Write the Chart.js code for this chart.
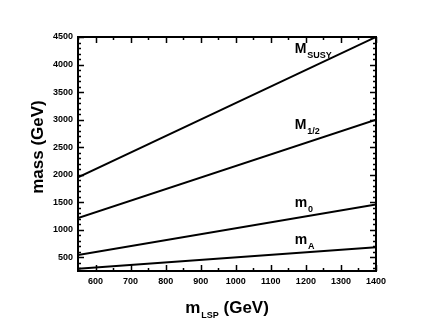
<!DOCTYPE html>
<html>
<head>
<meta charset="utf-8">
<script src="https://cdn.jsdelivr.net/npm/chart.js@4/dist/chart.umd.min.js"></script>
<style>
  html, body { margin: 0; padding: 0; background: #fff; }
</style>
</head>
<body>
<canvas id="massChart" width="437" height="327"></canvas>
<script>
// LSP mass (x) and the four mass curves
const mLSP = [550, 1400];
const mSUSY = [1950, 4500];
const mHalf = [1210, 3000];
const m0 = [540, 1460];
const mA = [290, 680];

const xTicks = [600, 700, 800, 900, 1000, 1100, 1200, 1300, 1400];
const yTicks = [500, 1000, 1500, 2000, 2500, 3000, 3500, 4000, 4500];

// curve labels: main letter, subscript, anchor in data units
const curveLabels = [
  { main: "M", sub: "SUSY", x: 1168, y: 4215 },
  { main: "M", sub: "1/2", x: 1168, y: 2835 },
  { main: "m", sub: "0", x: 1168, y: 1410 },
  { main: "m", sub: "A", x: 1168, y: 745 }
];

const BOLD = "'Liberation Sans', Arial, sans-serif";

function drawSub(ctx, x, y, main, sub, mainSize, subSize, drop) {
  ctx.font = "bold " + mainSize + "px " + BOLD;
  ctx.fillText(main, x, y);
  const w = ctx.measureText(main).width;
  ctx.font = "bold " + subSize + "px " + BOLD;
  ctx.fillText(sub, x + w + 1, y + drop);
  return w + 1 + ctx.measureText(sub).width;
}

const framePlugin = {
  id: "frame",
  afterDraw(chart) {
    const ctx = chart.ctx;
    const a = chart.chartArea;
    const xs = chart.scales.x, ys = chart.scales.y;
    ctx.save();
    ctx.strokeStyle = "#000";
    ctx.fillStyle = "#000";

    // ticks pointing inward on all four sides
    ctx.lineWidth = 1.5;
    ctx.beginPath();
    for (let v = 550; v <= 1400; v += 50) {
      const px = Math.round(xs.getPixelForValue(v)) + 0.5;
      const len = v % 100 === 0 ? 6 : 3;
      ctx.moveTo(px, a.bottom); ctx.lineTo(px, a.bottom - len);
      ctx.moveTo(px, a.top); ctx.lineTo(px, a.top + len);
    }
    for (let v = 300; v <= 4500; v += 100) {
      const py = Math.round(ys.getPixelForValue(v)) + 0.5;
      const len = v % 500 === 0 ? 6 : 3;
      ctx.moveTo(a.left, py); ctx.lineTo(a.left + len, py);
      ctx.moveTo(a.right, py); ctx.lineTo(a.right - len, py);
    }
    ctx.stroke();

    ctx.lineWidth = 2;
    ctx.strokeRect(a.left, a.top, a.right - a.left, a.bottom - a.top);

    // curve labels
    ctx.textBaseline = "alphabetic";
    ctx.textAlign = "left";
    curveLabels.forEach(l => {
      drawSub(ctx, xs.getPixelForValue(l.x), ys.getPixelForValue(l.y),
        l.main, l.sub, 14, 9, 5);
    });

    // x axis title
    ctx.font = "bold 17px " + BOLD;
    const wm = ctx.measureText("m").width;
    ctx.font = "bold 9px " + BOLD;
    const ws = ctx.measureText("LSP").width;
    ctx.font = "bold 17px " + BOLD;
    const wg = ctx.measureText(" (GeV)").width;
    const total = wm + 1 + ws + wg;
    const cx = (a.left + a.right) / 2;
    let tx = cx - total / 2;
    const ty = 313;
    drawSub(ctx, tx, ty, "m", "LSP", 17, 9, 5);
    ctx.font = "bold 17px " + BOLD;
    ctx.fillText(" (GeV)", tx + wm + 1 + ws, ty);

    // y axis title
    ctx.translate(38, (a.top + a.bottom) / 2 - 7);
    ctx.rotate(-Math.PI / 2);
    ctx.textAlign = "center";
    ctx.textBaseline = "middle";
    ctx.font = "bold 17px " + BOLD;
    ctx.fillText("mass (GeV)", 0, 0);
    ctx.restore();
  }
};

const ctx = document.getElementById("massChart").getContext("2d");
new Chart(ctx, {
  type: "line",
  data: {
    datasets: [mSUSY, mHalf, m0, mA].map(s => ({
      data: mLSP.map((x, i) => ({ x: x, y: s[i] })),
      borderColor: "#000",
      borderWidth: 2,
      pointRadius: 0,
      fill: false,
      tension: 0
    }))
  },
  options: {
    responsive: false,
    animation: false,
    devicePixelRatio: 1,
    layout: { padding: { top: 37, right: 61, bottom: 0, left: 0 } },
    plugins: { legend: { display: false }, tooltip: { enabled: false } },
    scales: {
      x: {
        type: "linear",
        min: 550,
        max: 1400,
        afterBuildTicks: s => { s.ticks = xTicks.map(v => ({ value: v })); },
        afterFit: s => { s.height = 56; },
        grid: { display: false, drawTicks: false },
        border: { display: false },
        ticks: {
          color: "#000",
          font: { family: BOLD, size: 9, weight: "bold" },
          padding: 5,
          maxRotation: 0,
          autoSkip: false,
          callback: v => String(v)
        }
      },
      y: {
        type: "linear",
        min: 250,
        max: 4500,
        afterBuildTicks: s => { s.ticks = yTicks.map(v => ({ value: v })); },
        afterFit: s => { s.width = 78; },
        grid: { display: false, drawTicks: false },
        border: { display: false },
        ticks: {
          color: "#000",
          font: { family: BOLD, size: 9, weight: "bold" },
          padding: 5,
          autoSkip: false,
          callback: v => String(v)
        }
      }
    }
  },
  plugins: [framePlugin]
});
</script>
</body>
</html>
